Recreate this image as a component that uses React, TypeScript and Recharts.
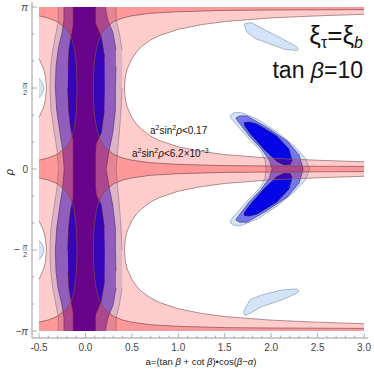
import { ScatterChart, Scatter, XAxis, YAxis } from "recharts";

const PI = 3.1416;
const FONT = "'Liberation Sans', Arial, sans-serif";

// axis ticks
const xTicks = [
  -0.5, -0.4, -0.3, -0.2, -0.1, 0, 0.1, 0.2, 0.3, 0.4, 0.5, 0.6, 0.7, 0.8, 0.9, 1.0, 1.1, 1.2,
  1.3, 1.4, 1.5, 1.6, 1.7, 1.8, 1.9, 2.0, 2.1, 2.2, 2.3, 2.4, 2.5, 2.6, 2.7, 2.8, 2.9, 3.0,
];
const xLabelTicks = [-0.5, 0, 0.5, 1.0, 1.5, 2.0, 2.5, 3.0];
const ySixths = [-6, -5, -4, -3, -2, -1, 0, 1, 2, 3, 4, 5, 6];
const yTicks = ySixths.map((k) => (k * Math.PI) / 6);

// corners of the plotted range
const topLeft = { a: -0.5, r: PI };
const topRight = { a: 3.0, r: PI };
const bottomRight = { a: 3.0, r: -PI };
const bottomLeft = { a: -0.5, r: -PI };

// a^2 sin^2 rho < 0.17 : outline of the excluded parts
const pinkUpperHole = [
  { a: 3.0, r: 3.0 }, { a: 2.5, r: 2.97 }, { a: 2.0, r: 2.93 }, { a: 1.5, r: 2.86 },
  { a: 1.25, r: 2.8 }, { a: 1.0, r: 2.71 }, { a: 0.8, r: 2.59 }, { a: 0.7, r: 2.5 },
  { a: 0.6, r: 2.37 }, { a: 0.55, r: 2.27 }, { a: 0.5, r: 2.14 }, { a: 0.45, r: 1.94 },
  { a: 0.43, r: 1.79 }, { a: 0.42, r: 1.57 }, { a: 0.43, r: 1.35 }, { a: 0.45, r: 1.2 },
  { a: 0.5, r: 1.0 }, { a: 0.55, r: 0.87 }, { a: 0.6, r: 0.78 }, { a: 0.7, r: 0.64 },
  { a: 0.8, r: 0.55 }, { a: 1.0, r: 0.43 }, { a: 1.25, r: 0.34 }, { a: 1.5, r: 0.28 },
  { a: 2.0, r: 0.21 }, { a: 2.5, r: 0.17 }, { a: 3.0, r: 0.14 },
];
const pinkLowerHole = [
  { a: 3.0, r: -0.14 }, { a: 2.5, r: -0.17 }, { a: 2.0, r: -0.21 }, { a: 1.5, r: -0.28 },
  { a: 1.25, r: -0.34 }, { a: 1.0, r: -0.43 }, { a: 0.8, r: -0.55 }, { a: 0.7, r: -0.64 },
  { a: 0.6, r: -0.78 }, { a: 0.55, r: -0.87 }, { a: 0.5, r: -1.0 }, { a: 0.45, r: -1.2 },
  { a: 0.43, r: -1.35 }, { a: 0.42, r: -1.57 }, { a: 0.43, r: -1.79 }, { a: 0.45, r: -1.94 },
  { a: 0.5, r: -2.14 }, { a: 0.55, r: -2.27 }, { a: 0.6, r: -2.37 }, { a: 0.7, r: -2.5 },
  { a: 0.8, r: -2.59 }, { a: 1.0, r: -2.71 }, { a: 1.25, r: -2.8 }, { a: 1.5, r: -2.86 },
  { a: 2.0, r: -2.93 }, { a: 2.5, r: -2.97 }, { a: 3.0, r: -3.0 },
];
const pinkLowerBump = [
  { a: -0.5, r: -2.14 }, { a: -0.45, r: -1.94 }, { a: -0.43, r: -1.79 }, { a: -0.42, r: -1.57 },
  { a: -0.43, r: -1.35 }, { a: -0.45, r: -1.2 }, { a: -0.5, r: -1.0 },
];
const pinkUpperBump = [
  { a: -0.5, r: 1.0 }, { a: -0.45, r: 1.2 }, { a: -0.43, r: 1.35 }, { a: -0.42, r: 1.57 },
  { a: -0.43, r: 1.79 }, { a: -0.45, r: 1.94 }, { a: -0.5, r: 2.14 },
];

// a^2 sin^2 rho < 6.2e-3
const redUpperHole = [
  { a: 3.0, r: 3.09 }, { a: 2.0, r: 3.083 }, { a: 1.5, r: 3.076 }, { a: 1.0, r: 3.05 },
  { a: 0.7, r: 3.02 }, { a: 0.5, r: 2.971 }, { a: 0.4, r: 2.928 }, { a: 0.3, r: 2.855 },
  { a: 0.2, r: 2.703 }, { a: 0.15, r: 2.54 }, { a: 0.12, r: 2.355 }, { a: 0.1, r: 2.126 },
  { a: 0.09, r: 1.907 }, { a: 0.085, r: 1.571 }, { a: 0.09, r: 1.235 }, { a: 0.1, r: 1.016 },
  { a: 0.12, r: 0.787 }, { a: 0.15, r: 0.602 }, { a: 0.2, r: 0.439 }, { a: 0.3, r: 0.287 },
  { a: 0.4, r: 0.214 }, { a: 0.5, r: 0.171 }, { a: 0.7, r: 0.122 }, { a: 1.0, r: 0.09 },
  { a: 1.5, r: 0.066 }, { a: 2.0, r: 0.058 }, { a: 3.0, r: 0.05 },
];
const redLowerHole = [
  { a: 3.0, r: -0.05 }, { a: 2.0, r: -0.058 }, { a: 1.5, r: -0.066 }, { a: 1.0, r: -0.09 },
  { a: 0.7, r: -0.122 }, { a: 0.5, r: -0.171 }, { a: 0.4, r: -0.214 }, { a: 0.3, r: -0.287 },
  { a: 0.2, r: -0.439 }, { a: 0.15, r: -0.602 }, { a: 0.12, r: -0.787 }, { a: 0.1, r: -1.016 },
  { a: 0.09, r: -1.235 }, { a: 0.085, r: -1.571 }, { a: 0.09, r: -1.907 }, { a: 0.1, r: -2.126 },
  { a: 0.12, r: -2.355 }, { a: 0.15, r: -2.54 }, { a: 0.2, r: -2.703 }, { a: 0.3, r: -2.855 },
  { a: 0.4, r: -2.928 }, { a: 0.5, r: -2.971 }, { a: 0.7, r: -3.02 }, { a: 1.0, r: -3.05 },
  { a: 1.5, r: -3.076 }, { a: 2.0, r: -3.083 }, { a: 3.0, r: -3.09 },
];
const redLowerLeftHole = [
  { a: -0.5, r: -2.971 }, { a: -0.4, r: -2.928 }, { a: -0.3, r: -2.855 }, { a: -0.2, r: -2.703 },
  { a: -0.15, r: -2.54 }, { a: -0.12, r: -2.355 }, { a: -0.105, r: -2.126 }, { a: -0.095, r: -1.907 },
  { a: -0.09, r: -1.571 }, { a: -0.095, r: -1.235 }, { a: -0.105, r: -1.016 }, { a: -0.12, r: -0.787 },
  { a: -0.15, r: -0.602 }, { a: -0.2, r: -0.439 }, { a: -0.3, r: -0.287 }, { a: -0.4, r: -0.214 },
  { a: -0.5, r: -0.171 },
];
const redUpperLeftHole = [
  { a: -0.5, r: 0.171 }, { a: -0.4, r: 0.214 }, { a: -0.3, r: 0.287 }, { a: -0.2, r: 0.439 },
  { a: -0.15, r: 0.602 }, { a: -0.12, r: 0.787 }, { a: -0.105, r: 1.016 }, { a: -0.095, r: 1.235 },
  { a: -0.09, r: 1.571 }, { a: -0.095, r: 1.907 }, { a: -0.105, r: 2.126 }, { a: -0.12, r: 2.355 },
  { a: -0.15, r: 2.54 }, { a: -0.2, r: 2.703 }, { a: -0.3, r: 2.855 }, { a: -0.4, r: 2.928 },
  { a: -0.5, r: 2.971 },
];

// xi_tau = xi_b fit, vertical bands (left edge top->bottom, right edge bottom->top)
const band3Left = [
  { a: -0.295, r: PI }, { a: -0.29, r: 2.89 }, { a: -0.317, r: 2.64 }, { a: -0.352, r: 2.31 },
  { a: -0.374, r: 1.98 }, { a: -0.382, r: 1.57 }, { a: -0.371, r: 1.14 }, { a: -0.335, r: 0.7 },
  { a: -0.306, r: 0.37 }, { a: -0.29, r: 0 }, { a: -0.306, r: -0.37 }, { a: -0.335, r: -0.7 },
  { a: -0.371, r: -1.14 }, { a: -0.382, r: -1.57 }, { a: -0.374, r: -1.98 }, { a: -0.352, r: -2.31 },
  { a: -0.317, r: -2.64 }, { a: -0.29, r: -2.89 }, { a: -0.295, r: -PI },
];
const band3Right = [
  { a: 0.33, r: -PI }, { a: 0.33, r: -2.89 }, { a: 0.365, r: -2.64 }, { a: 0.394, r: -2.31 },
  { a: 0.396, r: -1.98 }, { a: 0.394, r: -1.57 }, { a: 0.383, r: -1.14 }, { a: 0.365, r: -0.7 },
  { a: 0.348, r: -0.37 }, { a: 0.33, r: 0 }, { a: 0.348, r: 0.37 }, { a: 0.365, r: 0.7 },
  { a: 0.383, r: 1.14 }, { a: 0.394, r: 1.57 }, { a: 0.396, r: 1.98 }, { a: 0.394, r: 2.31 },
  { a: 0.365, r: 2.64 }, { a: 0.33, r: 2.89 }, { a: 0.33, r: PI },
];
const band2Left = [
  { a: -0.231, r: PI }, { a: -0.231, r: 2.89 }, { a: -0.252, r: 2.64 }, { a: -0.295, r: 2.31 },
  { a: -0.317, r: 1.98 }, { a: -0.324, r: 1.57 }, { a: -0.309, r: 1.14 }, { a: -0.274, r: 0.7 },
  { a: -0.245, r: 0.37 }, { a: -0.228, r: 0 }, { a: -0.245, r: -0.37 }, { a: -0.274, r: -0.7 },
  { a: -0.309, r: -1.14 }, { a: -0.324, r: -1.57 }, { a: -0.317, r: -1.98 }, { a: -0.295, r: -2.31 },
  { a: -0.252, r: -2.64 }, { a: -0.231, r: -2.89 }, { a: -0.231, r: -PI },
];
const band2Right = [
  { a: 0.214, r: -PI }, { a: 0.24, r: -2.89 }, { a: 0.297, r: -2.64 }, { a: 0.329, r: -2.31 },
  { a: 0.329, r: -1.98 }, { a: 0.322, r: -1.57 }, { a: 0.322, r: -1.14 }, { a: 0.294, r: -0.7 },
  { a: 0.257, r: -0.37 }, { a: 0.222, r: 0 }, { a: 0.257, r: 0.37 }, { a: 0.294, r: 0.7 },
  { a: 0.322, r: 1.14 }, { a: 0.322, r: 1.57 }, { a: 0.329, r: 1.98 }, { a: 0.329, r: 2.31 },
  { a: 0.297, r: 2.64 }, { a: 0.24, r: 2.89 }, { a: 0.214, r: PI },
];
const band1Left = [
  { a: -0.131, r: PI }, { a: -0.131, r: 2.79 }, { a: -0.145, r: 2.64 }, { a: -0.16, r: 2.5 },
  { a: -0.177, r: 2.31 }, { a: -0.185, r: 1.98 }, { a: -0.19, r: 1.57 }, { a: -0.18, r: 1.14 },
  { a: -0.16, r: 0.81 }, { a: -0.131, r: 0.56 }, { a: -0.131, r: -0.56 }, { a: -0.16, r: -0.81 },
  { a: -0.18, r: -1.14 }, { a: -0.19, r: -1.57 }, { a: -0.185, r: -1.98 }, { a: -0.177, r: -2.31 },
  { a: -0.16, r: -2.5 }, { a: -0.145, r: -2.64 }, { a: -0.131, r: -2.79 }, { a: -0.131, r: -PI },
];
const band1Right = [
  { a: 0.106, r: -PI }, { a: 0.106, r: -2.83 }, { a: 0.17, r: -2.56 }, { a: 0.205, r: -2.17 },
  { a: 0.208, r: -1.57 }, { a: 0.203, r: -1.14 }, { a: 0.17, r: -0.7 }, { a: 0.115, r: -0.5 },
  { a: 0.106, r: -0.3 }, { a: 0.106, r: 0.3 }, { a: 0.115, r: 0.5 }, { a: 0.17, r: 0.7 },
  { a: 0.203, r: 1.14 }, { a: 0.208, r: 1.57 }, { a: 0.205, r: 2.17 }, { a: 0.17, r: 2.56 },
  { a: 0.106, r: 2.83 }, { a: 0.106, r: PI },
];

// crescent near a = 2
const crescent3 = [
  { a: 1.56, r: 1.04 }, { a: 1.6, r: 1.09 }, { a: 1.67, r: 1.1 }, { a: 1.85, r: 0.97 },
  { a: 2.07, r: 0.71 }, { a: 2.25, r: 0.44 }, { a: 2.37, r: 0.21 }, { a: 2.415, r: 0 },
  { a: 2.37, r: -0.21 }, { a: 2.25, r: -0.44 }, { a: 2.07, r: -0.71 }, { a: 1.85, r: -0.97 },
  { a: 1.67, r: -1.1 }, { a: 1.6, r: -1.09 }, { a: 1.56, r: -1.04 }, { a: 1.57, r: -0.98 },
  { a: 1.646, r: -0.82 }, { a: 1.772, r: -0.562 }, { a: 1.88, r: -0.368 }, { a: 1.934, r: -0.174 },
  { a: 1.945, r: 0 }, { a: 1.934, r: 0.174 }, { a: 1.88, r: 0.368 }, { a: 1.772, r: 0.562 },
  { a: 1.646, r: 0.82 }, { a: 1.57, r: 0.98 },
];
const crescent2 = [
  { a: 1.62, r: 0.99 }, { a: 1.66, r: 1.03 }, { a: 1.74, r: 1.03 }, { a: 1.96, r: 0.8 },
  { a: 2.175, r: 0.54 }, { a: 2.3, r: 0.275 }, { a: 2.345, r: 0 }, { a: 2.3, r: -0.275 },
  { a: 2.175, r: -0.54 }, { a: 1.96, r: -0.8 }, { a: 1.74, r: -1.03 }, { a: 1.66, r: -1.03 },
  { a: 1.62, r: -0.99 }, { a: 1.64, r: -0.93 }, { a: 1.765, r: -0.64 }, { a: 1.89, r: -0.4 },
  { a: 1.98, r: -0.174 }, { a: 2.01, r: 0 }, { a: 1.98, r: 0.174 }, { a: 1.89, r: 0.4 },
  { a: 1.765, r: 0.64 }, { a: 1.64, r: 0.93 },
];
const lobe1Upper = [
  { a: 1.71, r: 0.9 }, { a: 1.76, r: 0.91 }, { a: 1.85, r: 0.87 }, { a: 2.06, r: 0.64 },
  { a: 2.19, r: 0.39 }, { a: 2.225, r: 0.17 }, { a: 2.205, r: 0.09 }, { a: 2.14, r: 0.08 },
  { a: 2.06, r: 0.15 }, { a: 1.92, r: 0.39 }, { a: 1.77, r: 0.7 }, { a: 1.715, r: 0.84 },
];
const lobe1Lower = [
  { a: 1.71, r: -0.9 }, { a: 1.76, r: -0.91 }, { a: 1.85, r: -0.87 }, { a: 2.06, r: -0.64 },
  { a: 2.19, r: -0.39 }, { a: 2.225, r: -0.17 }, { a: 2.205, r: -0.09 }, { a: 2.14, r: -0.08 },
  { a: 2.06, r: -0.15 }, { a: 1.92, r: -0.39 }, { a: 1.77, r: -0.7 }, { a: 1.715, r: -0.84 },
];

// pale islands
const islandUpper = [
  { a: 1.718, r: 2.824 }, { a: 1.79, r: 2.835 }, { a: 1.934, r: 2.694 }, { a: 2.114, r: 2.533 },
  { a: 2.275, r: 2.37 }, { a: 2.292, r: 2.32 }, { a: 2.28, r: 2.3 }, { a: 2.149, r: 2.32 },
  { a: 1.969, r: 2.436 }, { a: 1.826, r: 2.533 }, { a: 1.737, r: 2.661 }, { a: 1.712, r: 2.78 },
];
const islandLower = [
  { a: 1.711, r: -2.733 }, { a: 1.772, r: -2.539 }, { a: 1.898, r: -2.442 }, { a: 2.114, r: -2.345 },
  { a: 2.275, r: -2.326 }, { a: 2.3, r: -2.364 }, { a: 2.275, r: -2.409 }, { a: 2.114, r: -2.539 },
  { a: 1.898, r: -2.669 }, { a: 1.772, r: -2.797 }, { a: 1.72, r: -2.84 }, { a: 1.705, r: -2.79 },
];
const sliverUpper = [
  { a: -0.5, r: 1.38 }, { a: -0.465, r: 1.46 }, { a: -0.445, r: 1.57 }, { a: -0.465, r: 1.68 },
  { a: -0.5, r: 1.76 },
];
const sliverLower = [
  { a: -0.5, r: -1.38 }, { a: -0.465, r: -1.46 }, { a: -0.445, r: -1.57 }, { a: -0.465, r: -1.68 },
  { a: -0.5, r: -1.76 },
];

const pinkRegion = [
  topLeft, topRight, ...pinkUpperHole, ...pinkLowerHole, bottomRight, bottomLeft,
  ...pinkLowerBump, ...pinkUpperBump,
];
const redRegion = [
  topLeft, topRight, ...redUpperHole, ...redLowerHole, bottomRight, bottomLeft,
  ...redLowerLeftHole, ...redUpperLeftHole,
];
const band3 = [...band3Left, ...band3Right];
const band2 = [...band2Left, ...band2Right];
const band1 = [...band1Left, ...band1Right];

const PALE = "#d3e3f8";
const MID = "#7676ee";
const DARK = "#0505e6";

// draws the scatter's joined points as a filled polygon
const polygon =
  (fill: string, opacity: number, stroke: string, skipBorder = false) =>
  (props: any) => {
    const pts: { x: number; y: number }[] = props.points || [];
    if (pts.length < 3) return <g />;
    const d =
      pts.map((p, i) => `${i ? "L" : "M"}${p.x.toFixed(2)},${p.y.toFixed(2)}`).join("") + "Z";
    let edge = d;
    if (skipBorder) {
      const xs = pts.map((p) => p.x);
      const ys = pts.map((p) => p.y);
      const x0 = Math.min(...xs), x1 = Math.max(...xs);
      const y0 = Math.min(...ys), y1 = Math.max(...ys);
      const same = (u: number, v: number, w: number) => Math.abs(u - w) < 0.5 && Math.abs(v - w) < 0.5;
      edge = "";
      pts.forEach((p, i) => {
        const q = pts[(i + 1) % pts.length];
        if (same(p.x, q.x, x0) || same(p.x, q.x, x1) || same(p.y, q.y, y0) || same(p.y, q.y, y1)) return;
        edge += `M${p.x.toFixed(2)},${p.y.toFixed(2)}L${q.x.toFixed(2)},${q.y.toFixed(2)}`;
      });
    }
    return (
      <g>
        <path d={d} fill={fill} fillOpacity={opacity} stroke="none" />
        <path d={edge} fill="none" stroke={stroke} strokeWidth={0.7} strokeLinejoin="round" />
      </g>
    );
  };

const noDot = () => <g />;

const isMajorX = (v: number) => xLabelTicks.some((t) => Math.abs(t - v) < 1e-6);
const sixth = (v: number) => Math.round(v / (Math.PI / 6));

const BottomTick = ({ x, y, payload }: any) => {
  const major = isMajorX(payload.value);
  return (
    <g>
      <line x1={x} y1={y} x2={x} y2={y - (major ? 5 : 2.5)} stroke="#999" strokeWidth={0.8} />
      {major && (
        <text x={x} y={y + 13} textAnchor="middle" fontSize={10} fill="#444" fontFamily={FONT}>
          {payload.value.toFixed(1)}
        </text>
      )}
    </g>
  );
};

const TopTick = ({ x, y, payload }: any) => {
  const major = isMajorX(payload.value);
  return <line x1={x} y1={y} x2={x} y2={y + (major ? 5 : 2.5)} stroke="#999" strokeWidth={0.8} />;
};

const RightTick = ({ x, y, payload }: any) => {
  const major = sixth(payload.value) % 3 === 0;
  return <line x1={x} y1={y} x2={x - (major ? 5 : 2.5)} y2={y} stroke="#999" strokeWidth={0.8} />;
};

const LeftTick = ({ x, y, payload }: any) => {
  const k = sixth(payload.value);
  const major = k % 3 === 0;
  let label = null;
  if (k === 6 || k === -6 || k === 0) {
    label = (
      <text x={x - 4} y={y + 3.5} textAnchor="end" fontSize={10} fill="#444" fontFamily={FONT}
        fontStyle={k === 0 ? "normal" : "italic"}>
        {k === 6 ? "π" : k === -6 ? "−π" : "0"}
      </text>
    );
  } else if (k === 3 || k === -3) {
    const cx = x - 7;
    label = (
      <g fill="#444" fontFamily={FONT} fontSize={7.5}>
        {k < 0 && (
          <text x={cx - 5} y={y + 3} textAnchor="end" fontSize={10}>−</text>
        )}
        <text x={cx} y={y - 1.5} textAnchor="middle" fontStyle="italic">π</text>
        <line x1={cx - 2.5} y1={y} x2={cx + 2.5} y2={y} stroke="#444" strokeWidth={0.5} />
        <text x={cx} y={y + 7} textAnchor="middle">2</text>
      </g>
    );
  }
  return (
    <g>
      <line x1={x} y1={y} x2={x + (major ? 5 : 2.5)} y2={y} stroke="#999" strokeWidth={0.8} />
      {label}
    </g>
  );
};

const series: { data: { a: number; r: number }[]; line: any }[] = [
  { data: band3, line: polygon(PALE, 1, "#8a9bb5", true) },
  { data: crescent3, line: polygon(PALE, 1, "#8a9bb5") },
  { data: islandUpper, line: polygon(PALE, 1, "#8a9bb5") },
  { data: islandLower, line: polygon(PALE, 1, "#8a9bb5") },
  { data: sliverUpper, line: polygon(PALE, 1, "#8a9bb5", true) },
  { data: sliverLower, line: polygon(PALE, 1, "#8a9bb5", true) },
  { data: band2, line: polygon(MID, 1, "#3c3c8c", true) },
  { data: crescent2, line: polygon(MID, 1, "#3c3c8c") },
  { data: band1, line: polygon(DARK, 1, "#1a1a5a", true) },
  { data: lobe1Upper, line: polygon(DARK, 1, "#1a1a5a") },
  { data: lobe1Lower, line: polygon(DARK, 1, "#1a1a5a") },
  { data: pinkRegion, line: polygon("#ff0000", 0.2, "#8c6464", true) },
  { data: redRegion, line: polygon("#ff0000", 0.25, "#7a4c4c", true) },
];

export default function App() {
  return (
    <div style={{ position: "absolute", left: 0, top: 0, width: 374, height: 370, background: "#fff" }}>
      <ScatterChart width={374} height={370} margin={{ top: 2, right: 6, bottom: 0, left: 0 }}>
        <XAxis
          xAxisId="bottom"
          dataKey="a"
          type="number"
          domain={[-0.5754, 3.0429]}
          ticks={xTicks}
          interval={0}
          height={32}
          tickSize={0}
          tickMargin={0}
          stroke="#999"
          tick={<BottomTick />}
          allowDataOverflow
        />
        <XAxis
          xAxisId="top"
          orientation="top"
          dataKey="a"
          type="number"
          domain={[-0.5754, 3.0429]}
          ticks={xTicks}
          interval={0}
          height={0}
          tickSize={0}
          tickMargin={0}
          stroke="#999"
          tick={<TopTick />}
          allowDataOverflow
        />
        <YAxis
          yAxisId="left"
          dataKey="r"
          type="number"
          domain={[-3.2766, 3.2386]}
          ticks={yTicks}
          interval={0}
          width={32}
          tickSize={0}
          tickMargin={0}
          stroke="#999"
          tick={<LeftTick />}
          allowDataOverflow
        />
        <YAxis
          yAxisId="right"
          orientation="right"
          dataKey="r"
          type="number"
          domain={[-3.2766, 3.2386]}
          ticks={yTicks}
          interval={0}
          width={0}
          tickSize={0}
          tickMargin={0}
          stroke="#999"
          tick={<RightTick />}
          allowDataOverflow
        />
        {series.map((s, i) => (
          <Scatter
            key={i}
            xAxisId="bottom"
            yAxisId="left"
            data={s.data}
            line={s.line}
            lineType="joint"
            shape={noDot}
            isAnimationActive={false}
          />
        ))}
      </ScatterChart>
      <svg
        width={374}
        height={370}
        style={{ position: "absolute", left: 0, top: 0, pointerEvents: "none" }}
        fontFamily={FONT}
      >
        <text x={363} y={44} textAnchor="end" fontSize={26} fill="#111">
          ξ<tspan fontSize={16} dy={4}>τ</tspan><tspan dy={-4}>=ξ</tspan><tspan fontSize={16} dy={4} fontStyle="italic">b</tspan>
        </text>
        <text x={363} y={78} textAnchor="end" fontSize={23} fill="#111">
          tan <tspan fontStyle="italic">β</tspan>=10
        </text>
        <text x={150} y={134} fontSize={10} fill="#111">
          a<tspan fontSize={7} dy={-4}>2</tspan><tspan dy={4}>sin</tspan><tspan fontSize={7} dy={-4}>2</tspan><tspan dy={4} fontStyle="italic">ρ</tspan><tspan>&lt;0.17</tspan>
        </text>
        <text x={132} y={157} fontSize={10} fill="#111">
          a<tspan fontSize={7} dy={-4}>2</tspan><tspan dy={4}>sin</tspan><tspan fontSize={7} dy={-4}>2</tspan><tspan dy={4} fontStyle="italic">ρ</tspan><tspan>&lt;6.2×10</tspan><tspan fontSize={7} dy={-4}>−3</tspan>
        </text>
        <text x={201} y={365} textAnchor="middle" fontSize={9.5} fill="#222">
          a=(tan <tspan fontStyle="italic">β</tspan> + cot <tspan fontStyle="italic">β</tspan>)•cos(<tspan fontStyle="italic">β</tspan>−<tspan fontStyle="italic">α</tspan>)
        </text>
        <text transform="translate(13,172) rotate(-90)" textAnchor="middle" fontSize={11}
          fontStyle="italic" fill="#222">
          ρ
        </text>
      </svg>
    </div>
  );
}
